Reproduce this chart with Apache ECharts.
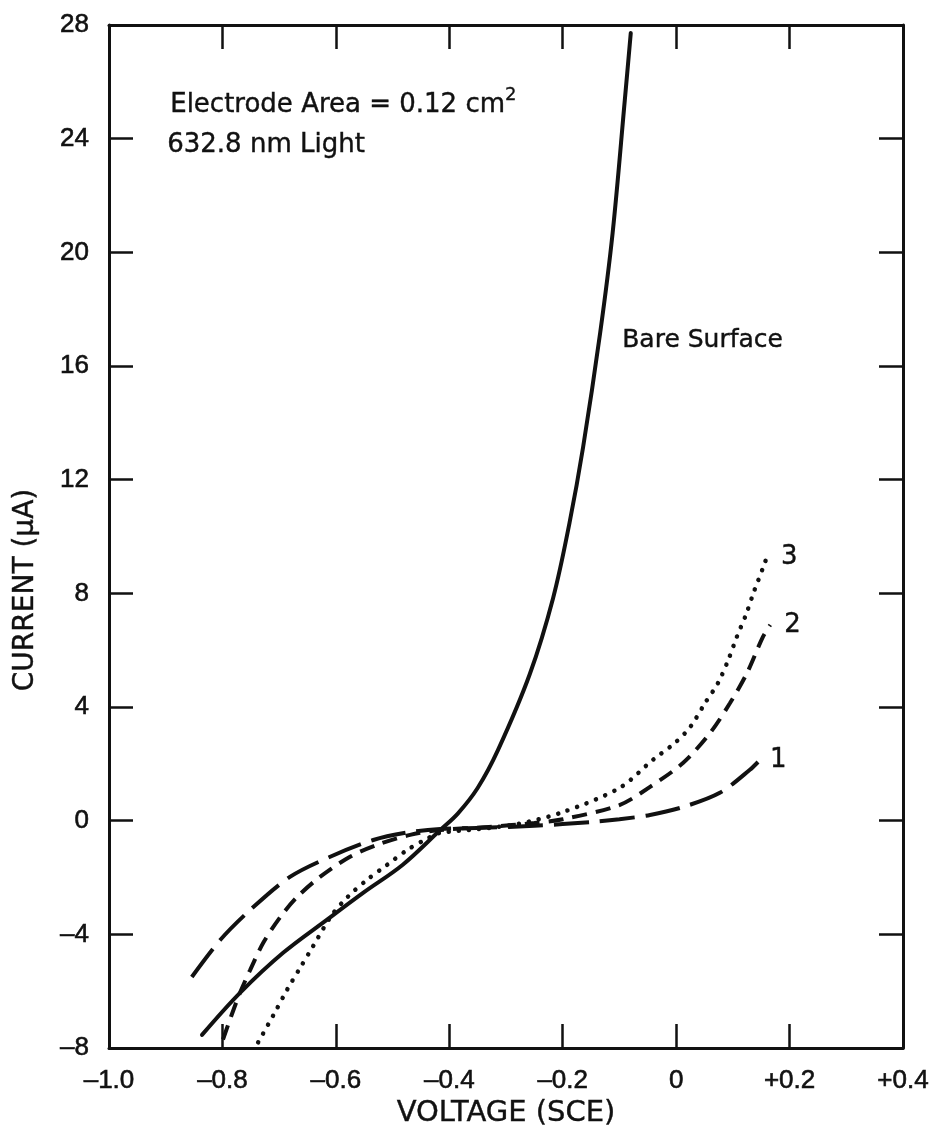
<!DOCTYPE html>
<html>
<head>
<meta charset="utf-8">
<script src="https://cdn.jsdelivr.net/npm/echarts@6.0.0/dist/echarts.min.js"></script>
<style>
  html, body { margin: 0; padding: 0; background: #ffffff; }
  #chart { width: 934px; height: 1140px; }
</style>
</head>
<body>
<div id="chart"></div>
<script>
// Photocurrent vs. electrode potential (SCE)

// Bare surface (solid)
const bareVolts = [-0.836, -0.769, -0.693, -0.616, -0.552, -0.482, -0.416, -0.385, -0.350,
                   -0.314, -0.258, -0.217, -0.188, -0.164, -0.134, -0.112, -0.0905, -0.080];
const bareCurrent = [-7.54, -6.06, -4.65, -3.49, -2.54, -1.55, -0.33, 0.25, 1.15,
                     2.49, 5.16, 7.83, 10.48, 13.15, 17.16, 20.68, 25.36, 27.72];

// Curve 1 (long dashes)
const c1Volts = [-0.854, -0.804, -0.751, -0.681, -0.610, -0.534, -0.469, -0.416, -0.340,
                 -0.250, -0.150, -0.100, -0.046, 0.012, 0.077, 0.130, 0.148];
const c1Current = [-5.5, -4.2, -3.14, -1.98, -1.27, -0.68, -0.40, -0.29, -0.25,
                   -0.18, -0.05, 0.05, 0.20, 0.48, 0.98, 1.79, 2.14];

// Curve 2 (short dashes)
const c2Volts = [-0.799, -0.772, -0.751, -0.728, -0.698, -0.668, -0.628, -0.575, -0.527,
                 -0.469, -0.416, -0.330, -0.250, -0.200, -0.100, -0.046, 0.012, 0.060,
                 0.095, 0.125, 0.153, 0.166];
const c2Current = [-7.7, -6.2, -5.25, -4.3, -3.39, -2.68, -1.98, -1.27, -0.85,
                   -0.5, -0.33, -0.22, -0.08, 0.05, 0.55, 1.19, 2.03, 3.09,
                   4.14, 5.2, 6.47, 6.89];

// Curve 3 (dotted)
const c3Volts = [-0.737, -0.707, -0.686, -0.663, -0.642, -0.607, -0.579, -0.545, -0.510,
                 -0.474, -0.437, -0.416, -0.350, -0.280, -0.200, -0.100, -0.041, -0.002,
                 0.025, 0.051, 0.074, 0.092, 0.107, 0.123, 0.137, 0.153, 0.160];
const c3Current = [-7.8, -6.73, -5.95, -5.18, -4.48, -3.32, -2.68, -2.08, -1.56,
                   -1.03, -0.61, -0.43, -0.30, -0.12, 0.30, 1.15, 2.14, 2.74,
                   3.30, 4.14, 4.85, 5.66, 6.47, 7.24, 8.05, 8.89, 9.28];

const curveNames = ['Bare Surface', '1', '2', '3'];

const INK = '#111111';
const FONT = '"DejaVu Sans", "Liberation Sans", sans-serif';
const TICK_FONT = '"Liberation Sans", Arial, sans-serif';

const zip = (xs, ys) => xs.map((x, i) => [x, ys[i]]);

const fmtVolt = v => {
  if (Math.abs(v) < 1e-9) return '0';
  const s = Math.abs(v).toFixed(1);
  return v > 0 ? '+' + s : '\u2013' + s;
};
const fmtCurrent = v => (v < 0 ? '\u2013' + Math.abs(v) : String(v));

const tickStyle = { inside: true, length: 24, lineStyle: { color: INK, width: 2.5 } };
const lineAxis = { show: true, onZero: false, lineStyle: { color: INK, width: 3 } };
const tickText = {
  color: INK, fontFamily: TICK_FONT, fontSize: 26,
  textBorderColor: INK, textBorderWidth: 0.6
};

// raw zrender text style for free-standing annotations
const annoText = (text, size) => ({
  text: text, fontFamily: FONT, fontSize: size, fill: INK,
  stroke: INK, lineWidth: 0.4
});

const chart = echarts.init(document.getElementById('chart'), null, { renderer: 'canvas' });

function endLabel(text, dist) {
  return {
    show: true,
    formatter: text,
    distance: dist,
    color: INK,
    fontFamily: FONT,
    fontSize: 26,
    textBorderColor: INK,
    textBorderWidth: 0.4
  };
}

chart.setOption({
  animation: false,
  backgroundColor: '#ffffff',
  grid: { left: 109, right: 31, top: 25, bottom: 92 },
  xAxis: [
    {
      type: 'value', position: 'bottom', min: -1.0, max: 0.4, interval: 0.2,
      axisLine: lineAxis, axisTick: tickStyle, splitLine: { show: false },
      axisLabel: Object.assign({ formatter: fmtVolt, margin: 20 }, tickText),
      name: 'VOLTAGE (SCE)', nameLocation: 'middle', nameGap: 51,
      nameTextStyle: { color: INK, fontFamily: FONT, fontSize: 29, textBorderColor: INK, textBorderWidth: 0.4 }
    },
    {
      type: 'value', position: 'top', min: -1.0, max: 0.4, interval: 0.2,
      axisLine: lineAxis, axisTick: tickStyle, splitLine: { show: false },
      axisLabel: { show: false }
    }
  ],
  yAxis: [
    {
      type: 'value', position: 'left', min: -8, max: 28, interval: 4,
      axisLine: lineAxis, axisTick: tickStyle, splitLine: { show: false },
      axisLabel: Object.assign({ formatter: fmtCurrent, margin: 20 }, tickText)
    },
    {
      type: 'value', position: 'right', min: -8, max: 28, interval: 4,
      axisLine: lineAxis, axisTick: tickStyle, splitLine: { show: false },
      axisLabel: { show: false }
    }
  ],
  series: [
    {
      name: curveNames[0], type: 'line', data: zip(bareVolts, bareCurrent),
      showSymbol: false, symbol: 'none', smooth: 0.35,
      lineStyle: { color: INK, width: 4, type: 'solid', cap: 'round' }
    },
    {
      name: curveNames[1], type: 'line', data: zip(c1Volts, c1Current),
      showSymbol: false, symbol: 'none', smooth: 0.3,
      lineStyle: { color: INK, width: 4, type: [35, 11], cap: 'butt' },
      endLabel: endLabel(curveNames[1], 10)
    },
    {
      name: curveNames[2], type: 'line', data: zip(c2Volts, c2Current),
      showSymbol: false, symbol: 'none', smooth: 0.3,
      lineStyle: { color: INK, width: 4, type: [15, 9], cap: 'butt' },
      endLabel: endLabel(curveNames[2], 14)
    },
    {
      name: curveNames[3], type: 'line', data: zip(c3Volts, c3Current),
      showSymbol: false, symbol: 'none', smooth: 0.3,
      lineStyle: { color: INK, width: 4.5, type: [0.1, 10], cap: 'round' },
      endLabel: endLabel(curveNames[3], 14)
    }
  ],
  graphic: [
    {
      type: 'text', left: 170, top: 86,
      style: {
        text: '{b|Electrode Area = 0.12 cm}{s|2}',
        rich: {
          b: { fontFamily: FONT, fontSize: 26, lineHeight: 32, fill: INK, verticalAlign: 'bottom',
               stroke: INK, lineWidth: 0.4 },
          s: { fontFamily: FONT, fontSize: 18, lineHeight: 32, fill: INK, verticalAlign: 'top',
               stroke: INK, lineWidth: 0.3 }
        }
      }
    },
    { type: 'text', left: 167, top: 132, style: annoText('632.8 nm Light', 26) },
    { type: 'text', left: 622, top: 328, style: annoText('Bare Surface', 25) },
    {
      type: 'text', x: 26, y: 590, rotation: Math.PI / 2,
      style: Object.assign(annoText('CURRENT (\u00b5A)', 28), { align: 'center', verticalAlign: 'middle' })
    }
  ]
});
</script>
</body>
</html>
